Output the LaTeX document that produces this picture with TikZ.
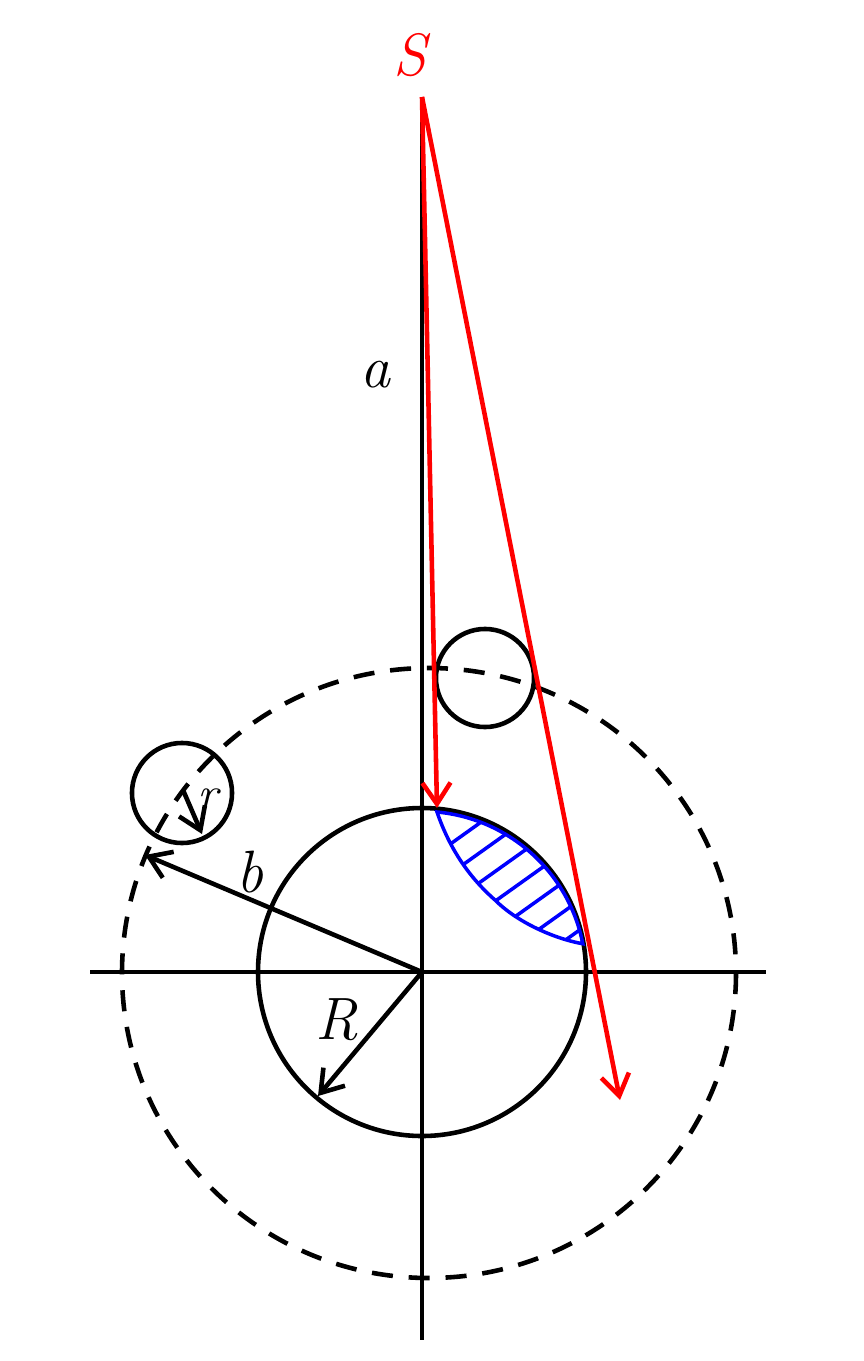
\documentclass[tikz,border=0pt]{standalone}
\usetikzlibrary{arrows.meta}
\begin{document}
\begin{tikzpicture}[x=0.01cm,y=-0.01cm,line width=1.3pt,
  lbl/.style={font=\fontsize{17}{19}\selectfont\itshape},
  arr/.style={-{Straight Barb[length=6pt,width=8pt]}}]
\useasboundingbox (0,0) rectangle (864,1361);
\coordinate (O) at (422,972);
\coordinate (Stop) at (422,97);
\coordinate (Vb) at (422,1340);
\coordinate (Hl) at (90,972);
\coordinate (Hr) at (766,972);
\draw (Stop) -- (Vb);
\draw (Hl) -- (Hr);
\draw (O) circle (164);
\draw[dash pattern=on 6pt off 4.5pt] (429,973) ellipse (307 and 305);
\node[draw,circle,minimum size=0.98cm,inner sep=0] (c1) at (485,678) {};
\node[draw,circle,minimum size=1.0cm,inner sep=0] (c2) at (182,793) {};
\node[red,lbl] (S) at (410,55) {S};
\node[lbl] (a) at (375,375) {a};
\node[lbl] (b) at (250,872) {b};
\node[lbl] (R) at (337,1020) {R};
\node[lbl,font=\fontsize{14}{16}\selectfont\itshape] (r) at (208,800) {r};
\coordinate (bE) at (145,855);
\coordinate (RE) at (318,1096);
\coordinate (r0) at (183,790);
\coordinate (rE) at (202,834);
\draw[arr] (O) -- (bE);
\draw[arr] (O) -- (RE);
\draw[arr] (r0) -- (rE);
\coordinate (p1) at (437,808);
\coordinate (p2) at (620,1100);
\draw[red,arr] (Stop) -- (p1);
\draw[red,arr] (Stop) -- (p2);
\begin{scope}[blue,line width=1pt]
\def\lens{(437,812) arc[start angle=-84.7,end angle=-11.1,radius=164] .. controls (560,940) and (520,925) .. (495,900) .. controls (470,878) and (450,850) .. (437,812) -- cycle}
\draw \lens;
\clip \lens;
\foreach \k in {0,...,9}{
  \draw ({400+\k*22},{880+\k*14}) -- ++(140,-100);
}
\end{scope}
\end{tikzpicture}
\end{document}
